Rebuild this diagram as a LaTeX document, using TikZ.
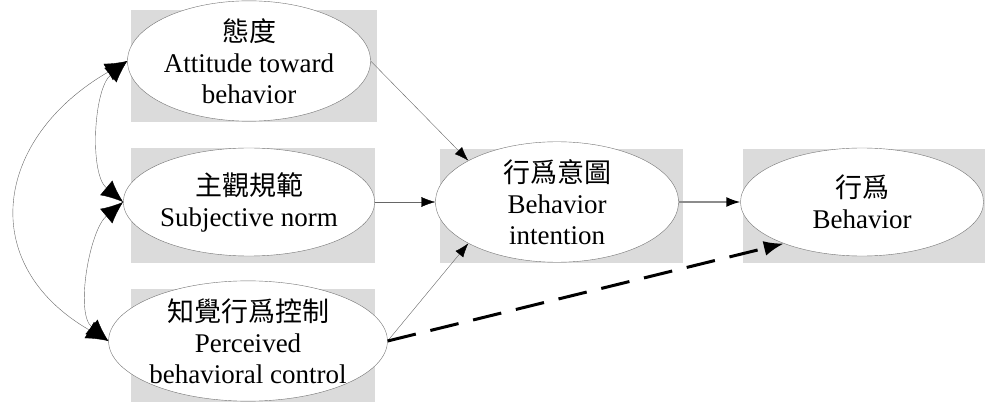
\documentclass[tikz,border=0pt]{standalone}
\usepackage{fontspec}
\setmainfont{Liberation Serif}
\newfontfamily\cjk{Noto Sans CJK TC}
\usetikzlibrary{arrows.meta}
\usetikzlibrary{shapes}
\usetikzlibrary{positioning}

\begin{document}
\begin{tikzpicture}[x=1pt,y=1pt,
  factor/.style={ellipse,draw=black!55,fill=white,minimum width=243pt,minimum height=108pt,inner sep=0pt,align=center,font=\fontsize{27}{31}\selectfont},
  backbox/.style={fill=black!14},
  effect/.style={draw=black!60,-{Latex[length=14pt,width=10pt,color=black]}},
  corr/.style={draw=black!60,{Latex[length=22pt,width=19pt,color=black]}-{Latex[length=22pt,width=19pt,color=black]}},
  dashline/.style={line width=3pt,dash pattern=on 29pt off 15pt,-{Latex[length=20pt,width=15pt]}}]
\useasboundingbox (0,0) rectangle (985,402);
% grey boxes behind the ellipses
\fill[backbox] (131,280) rectangle (377,392);
\fill[backbox] (131,139) rectangle (375,254);
\fill[backbox] (131,0) rectangle (375,113);
\fill[backbox] (440,139) rectangle (683,253);
\fill[backbox] (743,139) rectangle (985,253);
% factors
\node [factor] (att) at (249,341) {{\cjk 態度}\\Attitude toward\\behavior};
\node [factor] (sub) at (249,200) {{\cjk 主觀規範}\\Subjective norm};
\node [factor] (per) at (248,61) {{\cjk 知覺行爲控制}\\Perceived\\behavioral control};
\node [factor] (int) at (557,200) {{\cjk 行爲意圖}\\Behavior\\intention};
\node [factor] (beh) at (862,200) {{\cjk 行爲}\\Behavior};
% correlations
\draw[corr] (att.west) to[out=220,in=140,looseness=0.8] (sub.west);
\draw[corr] (sub.west) to[out=220,in=140,looseness=0.8] (per.west);
\draw[corr] (att.west) to[out=210,in=150,looseness=1.4] (per.west);
% paths
\draw[effect] (att.east) -- (int.155);
\draw[effect] (sub.east) -- (int.west);
\draw[effect] (per.east) -- (int.205);
\draw[effect,draw=black!45,line width=1.5pt] (int.east) -- (beh.west);
\draw[dashline] (per.east) -- (beh.208);
\end{tikzpicture}
\end{document}
